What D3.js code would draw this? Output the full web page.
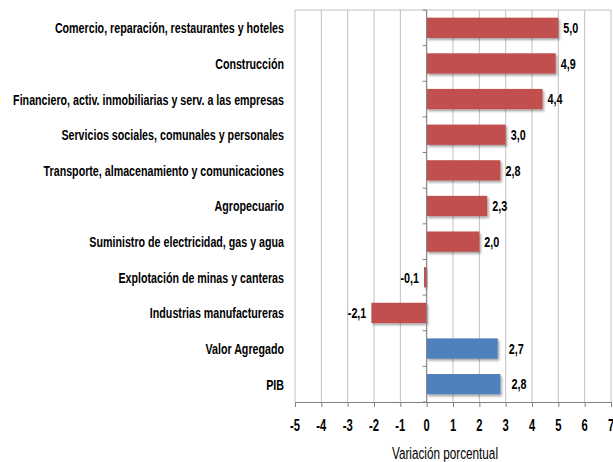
<!DOCTYPE html>
<head>
<meta charset="utf-8">
<style>
body { margin: 0; background: #fff; }
text { font-family: "Liberation Sans", Arial, sans-serif; fill: #000; }
</style>
</head>
<body>
<script src="https://cdn.jsdelivr.net/npm/d3@7"></script>
<script>

// data
var categories = [
  "Comercio, reparación, restaurantes y hoteles",
  "Construcción",
  "Financiero, activ. inmobiliarias y serv. a las empresas",
  "Servicios sociales, comunales y personales",
  "Transporte, almacenamiento y comunicaciones",
  "Agropecuario",
  "Suministro de electricidad, gas y agua",
  "Explotación de minas y canteras",
  "Industrias manufactureras",
  "Valor Agregado",
  "PIB"
];
var values = [5.0, 4.9, 4.4, 3.0, 2.8, 2.3, 2.0, -0.1, -2.1, 2.7, 2.8];
var seriesType = ["s","s","s","s","s","s","s","s","s","t","t"];  // s = sector, t = total
var xTicks = [-5, -4, -3, -2, -1, 0, 1, 2, 3, 4, 5, 6, 7];

var width = 613, height = 462;
var mLeft = 295, mRight = 611, mTop = 10, mBottom = 402;

var svg = d3.select("body").append("svg")
    .attr("width", width)
    .attr("height", height);

var defs = svg.append("defs");
var f = defs.append("filter").attr("id", "shadow")
    .attr("x", "-10%").attr("y", "-20%").attr("width", "130%").attr("height", "160%");
f.append("feDropShadow").attr("dx", 1.5).attr("dy", 2).attr("stdDeviation", 1.2)
    .attr("flood-color", "#000").attr("flood-opacity", 0.35);

var x = d3.scaleLinear().domain([-5, 7]).range([mLeft, mRight]);
var y = d3.scaleBand().domain(categories).range([mTop, mBottom]).paddingInner(0.43).paddingOuter(0.215);
var band = d3.scaleBand().domain(categories).range([mTop, mBottom]);

var color = { s: "#C0504D", t: "#4F81BD" };

// squeezed text at (px, py) -- fakes the narrow font of the original
function narrowText(g, px, py, anchor, size, squeeze, weight, str) {
  return g.append("text")
      .attr("transform", "translate(" + px + "," + py + ") scale(" + squeeze + ",1)")
      .attr("dy", "0.35em")
      .attr("text-anchor", anchor)
      .style("font-size", size + "px")
      .style("font-weight", weight)
      .text(str);
}

// gridlines
svg.append("g")
  .selectAll("line")
  .data(xTicks)
  .enter().append("line")
    .attr("x1", d => x(d)).attr("x2", d => x(d))
    .attr("y1", mTop).attr("y2", mBottom)
    .attr("stroke", "#c0c0c0")
    .attr("stroke-width", 1);

// top border
svg.append("line")
    .attr("x1", mLeft).attr("x2", mRight)
    .attr("y1", mTop).attr("y2", mTop)
    .attr("stroke", "#c0c0c0");

// bars
svg.append("g")
  .selectAll("rect")
  .data(values)
  .enter().append("rect")
    .attr("x", d => x(Math.min(0, d)))
    .attr("width", d => Math.abs(x(d) - x(0)))
    .attr("y", (d, i) => y(categories[i]))
    .attr("height", y.bandwidth())
    .attr("fill", (d, i) => color[seriesType[i]])
    .attr("filter", "url(#shadow)");

// x axis
var xAxis = svg.append("g")
    .attr("transform", "translate(0," + mBottom + ")")
    .call(d3.axisBottom(x).tickValues(xTicks).tickSize(5).tickFormat(""));
xAxis.select(".domain").attr("stroke", "#808080");
xAxis.selectAll(".tick line").attr("stroke", "#808080");
var xLab = svg.append("g");
xTicks.forEach(function(t) {
  narrowText(xLab, x(t), 425, "middle", 16, 0.7, "bold", String(t));
});

// y axis at zero
var yAxis = svg.append("g")
    .attr("transform", "translate(" + x(0) + ",0)");
yAxis.append("line")
    .attr("x1", 0).attr("x2", 0).attr("y1", mTop).attr("y2", mBottom)
    .attr("stroke", "#808080");
yAxis.selectAll("line.tk")
  .data(d3.range(categories.length + 1))
  .enter().append("line")
    .attr("class", "tk")
    .attr("x1", -4).attr("x2", 0)
    .attr("y1", i => mTop + i * band.step())
    .attr("y2", i => mTop + i * band.step())
    .attr("stroke", "#808080");

// category labels
var catG = svg.append("g");
categories.forEach(function(c) {
  narrowText(catG, 284, band(c) + band.bandwidth() / 2, "end", 15.5, 0.69, "bold", c);
});

// value labels
var valG = svg.append("g");
values.forEach(function(v, i) {
  var s = d3.format(".1f")(v).replace(".", ",").replace("−", "-");
  var gap = seriesType[i] === "t" ? 11 : 5;
  narrowText(valG, v >= 0 ? x(v) + gap : x(v) - 5,
    band(categories[i]) + band.bandwidth() / 2, v >= 0 ? "start" : "end", 15, 0.72, "bold", s);
});

// axis title
narrowText(svg, 445, 453, "middle", 17, 0.69, "normal", "Variación porcentual");

</script>
</body>
</html>
